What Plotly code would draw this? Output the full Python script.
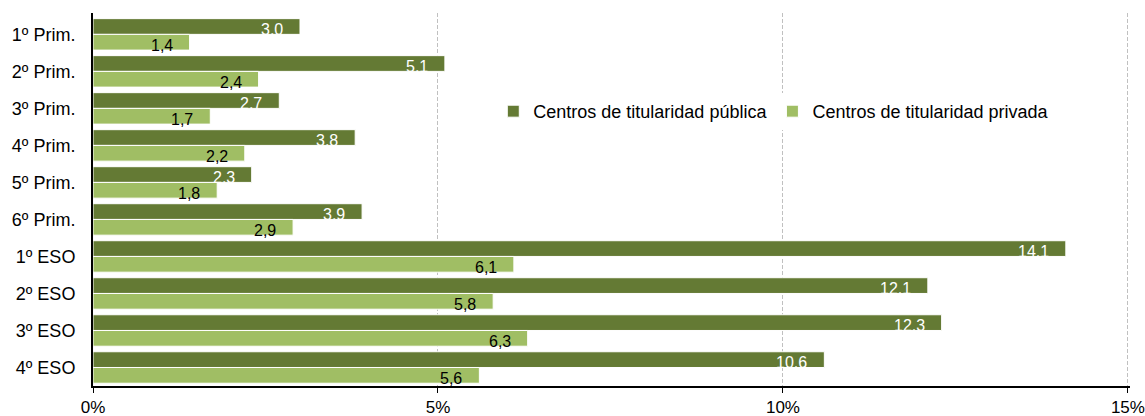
import plotly.graph_objects as go

categories = ["1º Prim.", "2º Prim.", "3º Prim.", "4º Prim.", "5º Prim.", "6º Prim.",
              "1º ESO", "2º ESO", "3º ESO", "4º ESO"]
publica = [3.0, 5.1, 2.7, 3.8, 2.3, 3.9, 14.1, 12.1, 12.3, 10.6]
privada = [1.4, 2.4, 1.7, 2.2, 1.8, 2.9, 6.1, 5.8, 6.3, 5.6]
series_names = ["Centros de titularidad pública", "Centros de titularidad privada"]
x_ticks = [0, 5, 10, 15]
x_tick_labels = ["0%", "5%", "10%", "15%"]

DARK = "#647A34"
LIGHT = "#A0BE64"
FONT = "Liberation Sans, Arial, sans-serif"
BARGAP = 0.15

fig = go.Figure()
fig.add_trace(go.Bar(y=categories, x=publica, orientation="h", name=series_names[0],
                     marker=dict(color=DARK, line=dict(color="#FFFFFF", width=1))))
fig.add_trace(go.Bar(y=categories, x=privada, orientation="h", name=series_names[1],
                     marker=dict(color=LIGHT, line=dict(color="#FFFFFF", width=1))))

half = (1 - BARGAP) / 4
annotations = []
for i, (pu, pr) in enumerate(zip(publica, privada)):
    annotations.append(dict(x=pu, y=i - half, xref="x", yref="y", text=f"{pu:.1f}".replace(".", ","),
                            showarrow=False, xanchor="right", yanchor="middle", xshift=-15, yshift=-3,
                            font=dict(family=FONT, size=16, color="#FFFFFF")))
    annotations.append(dict(x=pr, y=i + half, xref="x", yref="y", text=f"{pr:.1f}".replace(".", ","),
                            showarrow=False, xanchor="right", yanchor="middle", xshift=-15, yshift=-3,
                            font=dict(family=FONT, size=16, color="#000000")))

fig.update_layout(
    template="none",
    width=1145, height=416,
    margin=dict(l=93, r=15, t=13, b=30, autoexpand=False),
    paper_bgcolor="white", plot_bgcolor="white",
    barmode="group", bargap=BARGAP, bargroupgap=0,
    font=dict(family=FONT, size=17, color="#000000"),
    showlegend=True,
    legend=dict(orientation="h", x=0.386, xanchor="left", y=0.736, yanchor="middle",
                bgcolor="white", borderwidth=0, font=dict(family=FONT, size=18, color="#000000"),
                traceorder="normal"),
    annotations=annotations,
)
fig.update_xaxes(range=[0, 15.03], tickvals=x_ticks, ticktext=x_tick_labels, automargin=False,
                 showgrid=True, gridcolor="#C0C0C0", gridwidth=1, griddash="4px,2px",
                 zeroline=False, showline=True, linecolor="#000000", linewidth=2,
                 ticks="outside", ticklen=5, tickcolor="#000000", tickwidth=1,
                 tickfont=dict(family=FONT, size=17, color="#000000"))
fig.update_yaxes(type="category", autorange="reversed", showgrid=False, zeroline=False,
                 automargin=False,
                 showline=True, linecolor="#000000", linewidth=2, ticks="",
                 ticklabelstandoff=12,
                 tickfont=dict(family=FONT, size=18, color="#000000"))

fig.write_html("out.html", config={"displayModeBar": False},
               post_script="document.body.style.margin='0';document.body.style.padding='0';")
